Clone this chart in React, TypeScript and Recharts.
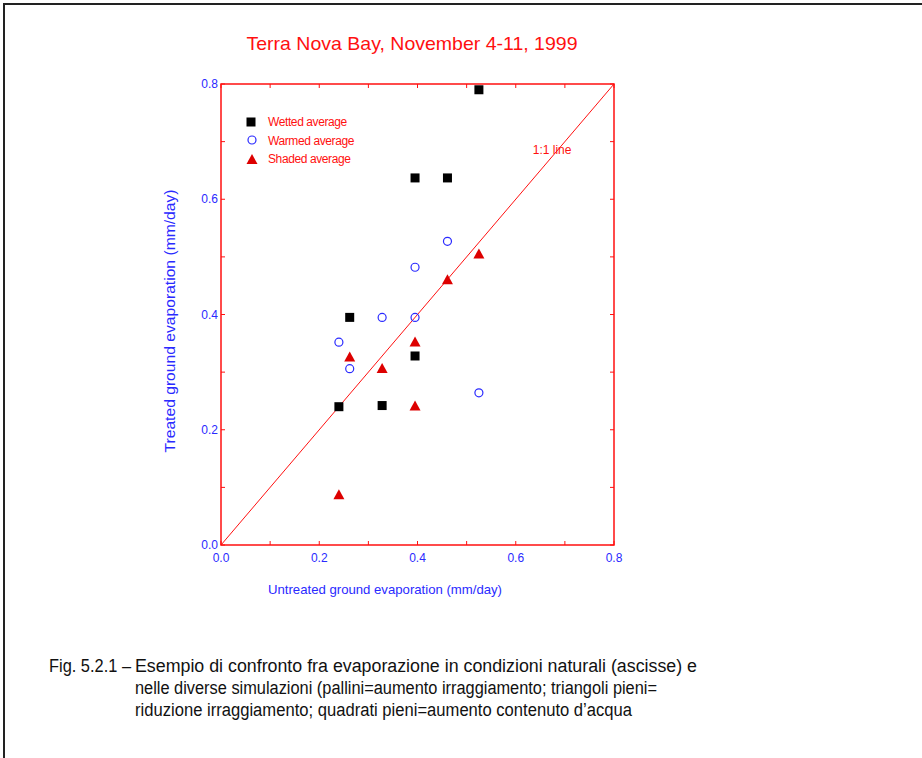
import { ScatterChart, Scatter, XAxis, YAxis, ReferenceLine, ReferenceArea, ReferenceDot } from 'recharts'

const RED = '#ff1010'
const MARK_RED = '#dd0000'
const BLUE = '#2a2aff'

// untreated (x) vs treated (y) evaporation, mm/day
const WETTED = [
  { x: 0.24, y: 0.24 },
  { x: 0.262, y: 0.395 },
  { x: 0.328, y: 0.242 },
  { x: 0.395, y: 0.328 },
  { x: 0.395, y: 0.637 },
  { x: 0.461, y: 0.637 },
  { x: 0.525, y: 0.79 },
]
const WARMED = [
  { x: 0.24, y: 0.352 },
  { x: 0.262, y: 0.306 },
  { x: 0.328, y: 0.395 },
  { x: 0.395, y: 0.395 },
  { x: 0.395, y: 0.482 },
  { x: 0.461, y: 0.527 },
  { x: 0.525, y: 0.264 },
]
const SHADED = [
  { x: 0.24, y: 0.088 },
  { x: 0.262, y: 0.327 },
  { x: 0.328, y: 0.307 },
  { x: 0.395, y: 0.353 },
  { x: 0.395, y: 0.242 },
  { x: 0.461, y: 0.461 },
  { x: 0.525, y: 0.506 },
]
const TICKS = [0, 0.1, 0.2, 0.3, 0.4, 0.5, 0.6, 0.7, 0.8]
const LEGEND = ['Wetted average', 'Warmed average', 'Shaded average']
const CAPTION = [
  'Esempio di confronto fra evaporazione in condizioni naturali (ascisse) e',
  'nelle diverse simulazioni (pallini=aumento irraggiamento; triangoli pieni=',
  'riduzione irraggiamento; quadrati pieni=aumento contenuto d\u2019acqua',
]

const W = 922
const H = 758
const MARGIN = { top: 84, right: 308, bottom: 183, left: 181 }
const PLOT_W = W - 221 - MARGIN.right
const PLOT_H = H - MARGIN.top - MARGIN.bottom - 30
const FONT = '"Liberation Sans", Arial, sans-serif'

const SquareMark = (p: any) => <rect x={p.cx - 4.5} y={p.cy - 4.5} width={9} height={9} fill="#000" />
const CircleMark = (p: any) => <circle cx={p.cx} cy={p.cy} r={4} fill="none" stroke={BLUE} strokeWidth={1.2} />
const TriMark = (p: any) => (
  <polygon points={`${p.cx},${p.cy - 5} ${p.cx + 5.5},${p.cy + 5} ${p.cx - 5.5},${p.cy + 5}`} fill={MARK_RED} />
)

// ticks point inward on both the axis side and the mirrored side
function XTick({ x, y, payload }: any) {
  const major = Math.round(payload.value * 10) % 2 === 0
  return (
    <g>
      <line x1={x} x2={x} y1={y} y2={y - 4} stroke={RED} />
      <line x1={x} x2={x} y1={y - PLOT_H} y2={y - PLOT_H + 4} stroke={RED} />
      {major && (
        <text x={x} y={y + 17} textAnchor="middle" fill={BLUE} fontSize={12} fontFamily={FONT}>
          {payload.value.toFixed(1)}
        </text>
      )}
    </g>
  )
}

function YTick({ x, y, payload }: any) {
  const major = Math.round(payload.value * 10) % 2 === 0
  return (
    <g>
      <line x1={x} x2={x + 4} y1={y} y2={y} stroke={RED} />
      <line x1={x + PLOT_W} x2={x + PLOT_W - 4} y1={y} y2={y} stroke={RED} />
      {major && (
        <text x={x - 3} y={y + 4} textAnchor="end" fill={BLUE} fontSize={12} fontFamily={FONT}>
          {payload.value.toFixed(1)}
        </text>
      )}
    </g>
  )
}

export default function App() {
  return (
    <div style={{ position: 'absolute', left: 0, top: 0, width: W, height: H, background: '#fff', overflow: 'hidden' }}>
      <ScatterChart width={W} height={H} margin={MARGIN}>
        <XAxis
          type="number"
          dataKey="x"
          domain={[0, 0.8]}
          ticks={TICKS}
          interval={0}
          tick={<XTick />}
          tickSize={0}
          tickMargin={0}
          tickLine={false}
          axisLine={false}
          height={30}
        />
        <YAxis
          type="number"
          dataKey="y"
          domain={[0, 0.8]}
          ticks={TICKS}
          interval={0}
          tick={<YTick />}
          tickSize={0}
          tickMargin={0}
          tickLine={false}
          axisLine={false}
          width={40}
        />
        <ReferenceArea x1={0} x2={0.8} y1={0} y2={0.8} fill="none" stroke={RED} strokeWidth={1.5} />
        <ReferenceLine segment={[{ x: 0, y: 0 }, { x: 0.8, y: 0.8 }]} stroke={RED} strokeWidth={1} />
        <ReferenceDot
          x={0.674}
          y={0.686}
          r={0}
          label={{ value: '1:1 line', fill: RED, fontSize: 12, fontFamily: FONT, position: 'center' }}
        />
        <Scatter data={WETTED} shape={SquareMark} isAnimationActive={false} />
        <Scatter data={WARMED} shape={CircleMark} isAnimationActive={false} />
        <Scatter data={SHADED} shape={TriMark} isAnimationActive={false} />
      </ScatterChart>

      <svg width={W} height={H} style={{ position: 'absolute', left: 0, top: 0, pointerEvents: 'none' }}>
        <rect x={4} y={4} width={W + 10} height={H + 10} fill="none" stroke="#222" strokeWidth={2} />
        <text x={412} y={50} textAnchor="middle" fill={RED} fontSize={19} fontFamily={FONT} textLength={331} lengthAdjust="spacingAndGlyphs">
          Terra Nova Bay, November 4-11, 1999
        </text>

        {/* legend */}
        <SquareMark cx={251} cy={122} />
        <CircleMark cx={252} cy={140} />
        <TriMark cx={252} cy={159} />
        {LEGEND.map((t, i) => (
          <text key={t} x={268} y={126 + i * 18.5} fill={RED} fontSize={12} fontFamily={FONT} letterSpacing={-0.4}>
            {t}
          </text>
        ))}

        <text x={385} y={594} textAnchor="middle" fill={BLUE} fontSize={13} fontFamily={FONT} textLength={234} lengthAdjust="spacingAndGlyphs">
          Untreated ground evaporation (mm/day)
        </text>
        <text
          transform="translate(175 321) rotate(-90)"
          textAnchor="middle"
          fill={BLUE}
          fontSize={14}
          fontFamily={FONT}
          textLength={263}
          lengthAdjust="spacingAndGlyphs"
        >
          Treated ground evaporation (mm/day)
        </text>

        {/* caption */}
        <text x={49} y={672} fill="#111" fontSize={18} fontFamily={FONT} textLength={82} lengthAdjust="spacingAndGlyphs">
          Fig. 5.2.1 –
        </text>
        <text x={135} y={672} fill="#111" fontSize={18} fontFamily={FONT} textLength={562} lengthAdjust="spacingAndGlyphs">
          {CAPTION[0]}
        </text>
        <text x={135} y={694} fill="#111" fontSize={18} fontFamily={FONT} textLength={522} lengthAdjust="spacingAndGlyphs">
          {CAPTION[1]}
        </text>
        <text x={135} y={716} fill="#111" fontSize={18} fontFamily={FONT} textLength={497} lengthAdjust="spacingAndGlyphs">
          {CAPTION[2]}
        </text>
      </svg>
    </div>
  )
}
